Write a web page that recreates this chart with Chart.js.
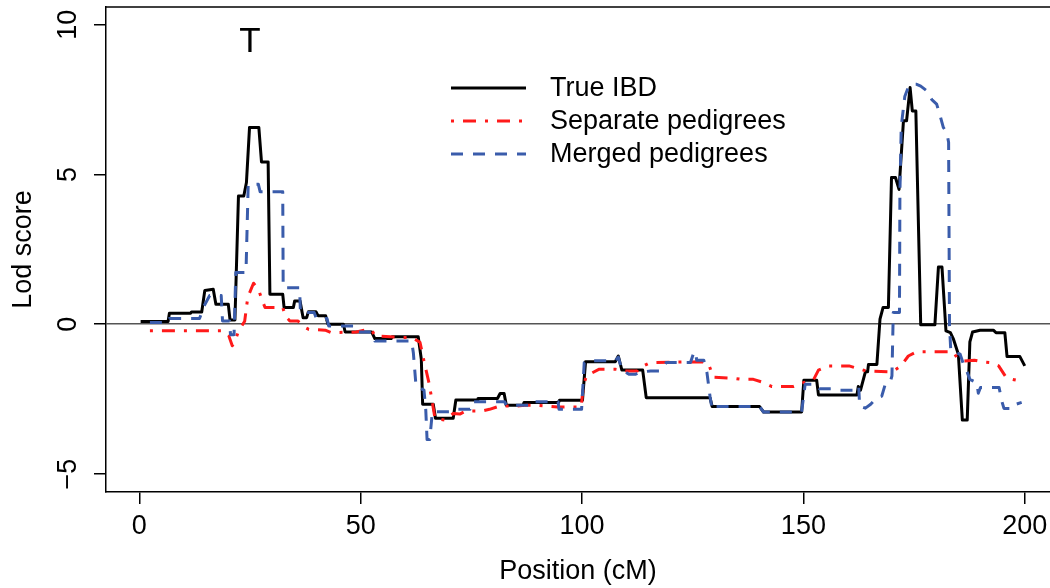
<!DOCTYPE html>
<html>
<head>
<meta charset="utf-8">
<title>Lod score</title>
<script src="https://cdn.jsdelivr.net/npm/chart.js@4.4.0/dist/chart.umd.min.js"></script>
<style>
  body { margin: 0; background: #fff; }
  canvas { display: block; }
</style>
</head>
<body>
<canvas id="lodChart" width="1050" height="588"></canvas>
<script>
// values (position in cM, lod score)
const ibdPos = [0.3, 6.5, 6.8, 11.6, 11.8, 14.1, 14.8, 16.7, 17.3, 20.1, 20.5, 21.6, 22.4, 23.6, 24.2, 24.9, 27.0, 27.6, 29.1, 29.5,
    32.4, 32.7, 34.8, 35.1, 36.3, 37.0, 37.8, 38.2, 39.9, 40.4, 42.1, 42.6, 46.1, 46.5, 52.5, 53.2, 56.9, 57.1, 63.0, 63.7,
    64.0, 66.4, 66.9, 70.9, 71.5, 76.3, 76.5, 80.9, 81.5, 82.4, 82.9, 86.7, 86.9, 94.7, 94.9, 100.1, 100.8, 107.5, 108.2, 109.0,
    113.7, 114.5, 128.9, 129.4, 140.1, 141.0, 149.6, 150.1, 153.0, 153.4, 162.1, 162.4, 162.9, 164.0, 164.5, 164.7, 166.6, 167.3, 168.0, 169.2,
    169.9, 170.8, 171.6, 172.6, 173.3, 174.1, 174.6, 175.4, 176.5, 179.7, 180.5, 181.3, 182.2, 183.2, 183.9, 185.0, 185.9, 187.0, 187.6, 188.2,
    189.9, 192.9, 193.5, 195.5, 196.0, 198.9, 200.0];
const ibdLod = [0.09, 0.09, 0.37, 0.37, 0.41, 0.41, 1.13, 1.17, 0.67, 0.67, 0.14, 0.14, 4.28, 4.28, 4.73, 6.57, 6.57, 5.42, 5.42, 1.0,
    1.0, 0.56, 0.56, 0.78, 0.78, 0.22, 0.22, 0.42, 0.42, 0.28, 0.28, 0.0, 0.0, -0.26, -0.26, -0.48, -0.48, -0.42, -0.42, -1.17,
    -2.67, -2.67, -3.14, -3.14, -2.53, -2.53, -2.48, -2.48, -2.31, -2.31, -2.7, -2.7, -2.61, -2.61, -2.54, -2.54, -1.25, -1.25, -1.06, -1.53,
    -1.53, -2.45, -2.45, -2.75, -2.75, -2.93, -2.93, -1.87, -1.87, -2.36, -2.36, -2.08, -2.2, -1.59, -1.59, -1.34, -1.34, 0.17, 0.56, 0.56,
    4.9, 4.9, 4.5, 6.79, 6.79, 7.9, 7.12, 7.12, -0.02, -0.02, 1.91, 1.91, -0.22, -0.28, -0.5, -1.0, -3.2, -3.2, -0.59, -0.26,
    -0.2, -0.2, -0.28, -0.28, -1.08, -1.08, -1.39];

const sepPos = [2.4, 19.0, 20.2, 21.0, 21.5, 22.4, 23.8, 24.5, 25.8, 27.0, 27.8, 28.4, 32.4, 33.0, 34.0, 35.8, 37.5, 38.3, 42.0, 43.3,
    49.0, 51.0, 52.5, 53.2, 58.8, 61.5, 63.4, 64.3, 65.5, 66.4, 66.8, 69.0, 70.9, 72.4, 73.7, 77.3, 79.1, 81.4, 85.2, 87.5,
    89.4, 94.5, 99.8, 100.3, 101.0, 103.9, 107.5, 110.0, 112.5, 113.0, 115.4, 127.0, 128.5, 129.7, 134.1, 136.0, 138.7, 140.9, 142.9, 147.7,
    150.0, 152.3, 153.4, 155.7, 160.3, 164.2, 170.0, 172.0, 173.7, 175.6, 183.9, 184.6, 186.1, 188.6, 190.7, 192.2, 194.1, 195.9, 198.2, 199.3];
const sepLod = [-0.22, -0.22, -0.38, -0.72, -0.6, -0.24, 0.1, 0.9, 1.37, 1.13, 0.78, 0.56, 0.56, 0.27, 0.11, 0.11, -0.11, -0.17, -0.2, -0.28,
    -0.26, -0.19, -0.19, -0.39, -0.44, -0.44, -0.6, -1.23, -2.0, -2.8, -3.15, -3.2, -2.98, -3.0, -2.9, -2.9, -2.84, -2.73, -2.73, -2.7,
    -2.7, -2.76, -2.76, -2.07, -1.72, -1.5, -1.5, -1.56, -1.56, -1.45, -1.28, -1.25, -1.3, -1.77, -1.8, -1.84, -1.84, -1.94, -2.08, -2.08,
    -1.95, -1.85, -1.53, -1.39, -1.39, -1.56, -1.59, -1.4, -1.06, -0.92, -0.92, -1.1, -1.23, -1.2, -1.26, -1.28, -1.39, -1.8, -1.87, -1.87];

const mrgPos = [2.4, 6.5, 6.8, 13.6, 14.6, 15.9, 18.5, 18.8, 20.4, 20.6, 21.4, 21.8, 24.1, 24.6, 26.9, 27.3, 32.4, 32.5, 36.2, 36.4,
    39.5, 40.0, 42.4, 42.8, 48.5, 49.0, 52.5, 53.2, 61.5, 61.9, 62.5, 64.3, 64.7, 65.0, 65.6, 66.2, 70.9, 72.0, 74.7, 75.0,
    82.5, 82.9, 88.6, 88.8, 94.6, 94.8, 99.9, 100.5, 101.0, 107.5, 108.2, 109.0, 110.6, 112.1, 113.0, 115.5, 117.6, 119.0, 124.5, 125.3,
    125.6, 125.9, 127.5, 128.2, 128.9, 129.4, 129.7, 140.1, 141.0, 149.6, 150.4, 153.0, 153.6, 157.0, 158.0, 162.2, 162.5, 162.7, 164.0, 165.2,
    166.6, 167.7, 168.5, 169.6, 170.0, 170.3, 171.7, 171.8, 172.1, 172.9, 173.8, 174.6, 175.6, 176.5, 177.8, 179.0, 180.1, 180.8, 181.6, 182.4,
    182.8, 183.0, 183.3, 185.4, 186.3, 186.9, 187.6, 189.2, 189.5, 190.0, 194.2, 194.8, 195.3, 197.5, 198.0, 199.3];
const mrgLod = [0.06, 0.06, 0.19, 0.19, 0.6, 0.96, 0.96, 0.11, 0.11, -0.35, -0.35, 1.73, 1.73, 4.67, 4.67, 4.42, 4.42, 1.22, 1.22, 0.39,
    0.39, 0.19, 0.19, -0.06, -0.06, -0.26, -0.26, -0.56, -0.56, -0.95, -2.06, -2.2, -2.84, -3.85, -3.85, -2.92, -2.92, -2.84, -2.84, -2.59,
    -2.59, -2.7, -2.7, -2.59, -2.59, -2.84, -2.84, -1.28, -1.22, -1.22, -1.1, -1.53, -1.67, -1.67, -1.6, -1.56, -1.56, -1.28, -1.28, -0.92,
    -0.92, -1.2, -1.2, -1.6, -2.4, -2.84, -2.75, -2.75, -2.93, -2.93, -2.0, -2.0, -2.15, -2.15, -2.2, -2.2, -2.08, -2.73, -2.8, -2.67,
    -2.45, -2.4, -2.0, -1.95, -1.72, 0.39, 0.39, 4.4, 6.6, 7.6, 7.95, 8.01, 8.01, 7.95, 7.8, 7.5, 7.35, 7.0, 6.57, 6.4,
    6.07, -0.06, -0.9, -1.0, -1.4, -1.56, -1.84, -1.95, -2.3, -2.11, -2.11, -2.56, -2.81, -2.81, -2.67, -2.61];

const xTicks = [0, 50, 100, 150, 200];
const yTicks = [-5, 0, 5, 10];
const seriesNames = ['True IBD', 'Separate pedigrees', 'Merged pedigrees'];
const peakLabel = {text: 'T', x: 25, y: 9.4};

const fontFamily = "'Liberation Sans', Arial, Helvetica, sans-serif";
const redDash = [3, 9, 13, 9];
const blueDash = [12, 10];
const colors = ['#000000', '#ff1a1a', '#3a5cab'];

function toPoints(xs, ys) {
    return xs.map((x, i) => ({x: x, y: ys[i]}));
}

Chart.defaults.font.family = fontFamily;
Chart.defaults.font.size = 27;
Chart.defaults.color = '#000';

// top frame line, rotated y tick labels, the T mark and the legend
const extras = {
    id: 'extras',
    afterDraw(chart) {
        const ctx = chart.ctx;
        const area = chart.chartArea;
        const xs = chart.scales.x;
        const ys = chart.scales.y;
        ctx.save();
        ctx.strokeStyle = '#000';
        ctx.lineWidth = 1.5;
        ctx.beginPath();
        ctx.moveTo(area.left, area.top);
        ctx.lineTo(area.right, area.top);
        ctx.stroke();

        ctx.fillStyle = '#000';
        ctx.font = '27px ' + fontFamily;
        ctx.textAlign = 'center';
        ctx.textBaseline = 'middle';
        yTicks.forEach(v => {
            const label = v < 0 ? '\u2212' + Math.abs(v) : String(v);
            ctx.save();
            ctx.translate(area.left - 37, ys.getPixelForValue(v));
            ctx.rotate(-Math.PI / 2);
            ctx.fillText(label, 0, 0);
            ctx.restore();
        });

        ctx.font = '35px ' + fontFamily;
        ctx.fillText(peakLabel.text, xs.getPixelForValue(peakLabel.x), ys.getPixelForValue(peakLabel.y));

        // legend
        const lx = area.left + 345, ly = area.top + 81, step = 33;
        const dashes = [[], redDash, blueDash];
        ctx.font = '27px ' + fontFamily;
        ctx.textAlign = 'left';
        seriesNames.forEach((name, i) => {
            const y = ly + i * step;
            ctx.strokeStyle = colors[i];
            ctx.lineWidth = 3;
            ctx.setLineDash(dashes[i]);
            ctx.beginPath();
            ctx.moveTo(lx, y);
            ctx.lineTo(lx + 75, y);
            ctx.stroke();
            ctx.setLineDash([]);
            ctx.fillStyle = '#000';
            ctx.fillText(name, lx + 99, y + 1);
        });
        ctx.restore();
    }
};

const config = {
    type: 'line',
    data: {
        datasets: [
            {
                label: seriesNames[0],
                data: toPoints(ibdPos, ibdLod),
                borderColor: colors[0],
                borderWidth: 3,
                order: 3
            },
            {
                label: seriesNames[1],
                data: toPoints(sepPos, sepLod),
                borderColor: colors[1],
                borderWidth: 3,
                borderDash: redDash,
                order: 2
            },
            {
                label: seriesNames[2],
                data: toPoints(mrgPos, mrgLod),
                borderColor: colors[2],
                borderWidth: 3,
                borderDash: blueDash,
                order: 1
            }
        ]
    },
    options: {
        responsive: false,
        animation: false,
        devicePixelRatio: 1,
        layout: {padding: {top: 7, right: 0, bottom: 0, left: 0}},
        elements: {
            point: {radius: 0},
            line: {tension: 0, fill: false, borderJoinStyle: 'round', borderCapStyle: 'butt'}
        },
        plugins: {
            legend: {display: false},
            tooltip: {enabled: false}
        },
        scales: {
            x: {
                type: 'linear',
                min: -7.52,
                max: 205.7,
                afterBuildTicks: scale => { scale.ticks = xTicks.map(v => ({value: v})); },
                afterFit: scale => {
                    scale.height = 96;
                    scale.paddingLeft = 0;
                    scale.paddingRight = 0;
                },
                ticks: {
                    color: '#000',
                    padding: 6,
                    maxRotation: 0,
                    autoSkip: false,
                    font: {size: 27}
                },
                grid: {
                    drawOnChartArea: false,
                    tickLength: 12,
                    color: '#000',
                    lineWidth: 1.5
                },
                border: {display: true, color: '#000', width: 1.5},
                title: {
                    display: true,
                    text: 'Position (cM)',
                    color: '#000',
                    font: {size: 27},
                    padding: {top: 0, bottom: 0}
                }
            },
            y: {
                type: 'linear',
                min: -5.6,
                max: 10.59,
                afterBuildTicks: scale => { scale.ticks = yTicks.map(v => ({value: v})); },
                afterFit: scale => {
                    scale.width = 106;
                    scale.paddingTop = 0;
                    scale.paddingBottom = 0;
                },
                ticks: {display: false},
                grid: {
                    drawOnChartArea: true,
                    tickLength: 12,
                    color: c => (c.tick && c.tick.value === 0) ? '#555555' : 'rgba(0,0,0,0)',
                    lineWidth: 1.5,
                    tickColor: '#000',
                    tickWidth: 1.5
                },
                border: {display: true, color: '#000', width: 1.5},
                title: {
                    display: true,
                    text: 'Lod score',
                    color: '#000',
                    font: {size: 27},
                    padding: {top: 7, bottom: 0}
                }
            }
        }
    },
    plugins: [extras]
};

const lodChart = new Chart(document.getElementById('lodChart'), config);
</script>
</body>
</html>
